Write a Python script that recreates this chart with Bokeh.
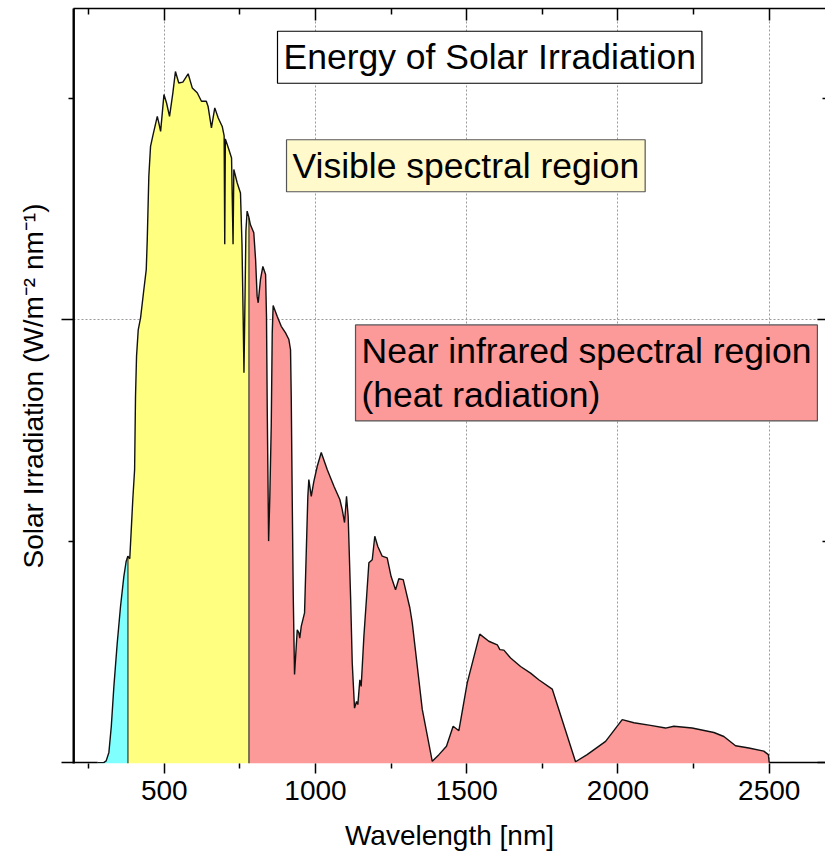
import numpy as np
from bokeh.plotting import figure
from bokeh.models import Range1d, FixedTicker, LinearAxis, Label, Span
from bokeh.embed import file_html
from bokeh.resources import INLINE

# ---- data ----
wavelength = [280, 300, 308, 317, 325, 333.5, 344.6, 355.5, 366.4, 374, 379.6, 386, 392, 396,
              402, 405, 408.4, 414, 421.7, 432.6, 440.5, 443.8, 449, 454.7, 462, 477, 482, 488,
              499, 507.6, 517.5, 528.5, 537, 548, 561.5, 579, 592.6, 609, 623, 639, 645, 656,
              667, 678.5, 691.7, 698, 700, 702, 713.6, 722.5, 727.5, 730, 741, 752, 757, 761,
              763.5, 766, 770, 774, 779, 785, 796, 802, 807, 810.6, 818, 826, 835, 838, 840.5,
              845, 849, 853.7, 857, 860, 873.6, 886.8, 901, 912, 917.5, 919.8, 923, 926.5,
              930.7, 939.7, 945, 948, 953, 963.8, 970, 974.7, 978, 986, 994.6, 1005.8, 1019,
              1039, 1061, 1080.5, 1088.4, 1096, 1102.6, 1108, 1116, 1121.5, 1129, 1135.7, 1140,
              1146.6, 1151, 1160, 1169, 1176.5, 1187.6, 1196, 1206, 1220.6, 1237, 1250, 1264.6,
              1275.5, 1290, 1312, 1320, 1353, 1386, 1408, 1433, 1455, 1474, 1501.6, 1543, 1573,
              1601, 1609.5, 1622.8, 1645, 1678, 1711, 1738, 1782.6, 1859.7, 1898, 1959, 2014,
              2052.6, 2107.6, 2157, 2184.6, 2245, 2317, 2350, 2388.6, 2432.6, 2482, 2497, 2500]
irradiance = [0.0, 0.0, 0.004, 0.023, 0.082, 0.172, 0.27, 0.353, 0.42, 0.454, 0.466, 0.46, 0.54, 0.594,
              0.661, 0.827, 0.917, 0.977, 1.004, 1.068, 1.113, 1.18, 1.323, 1.391, 1.414, 1.459, 1.444, 1.425,
              1.508, 1.489, 1.459, 1.512, 1.56, 1.534, 1.536, 1.555, 1.523, 1.512, 1.493, 1.493, 1.481, 1.433,
              1.478, 1.455, 1.436, 1.415, 1.17, 1.408, 1.384, 1.365, 1.17, 1.339, 1.309, 1.286, 1.17, 1.0,
              0.88, 1.0, 1.2, 1.245, 1.233, 1.214, 1.196, 1.135, 1.053, 1.038, 1.09, 1.12, 1.102, 1.007, 0.797,
              0.5, 0.6, 0.76, 0.97, 1.032, 1.007, 0.985, 0.97, 0.955, 0.932, 0.827, 0.601, 0.375,
              0.199, 0.3, 0.293, 0.281, 0.308, 0.338, 0.488, 0.601, 0.639, 0.601, 0.635, 0.669, 0.7,
              0.661, 0.624, 0.594, 0.571, 0.542, 0.601, 0.556, 0.375, 0.225, 0.123, 0.138, 0.131,
              0.187, 0.172, 0.285, 0.375, 0.451, 0.458, 0.511, 0.488, 0.466, 0.462, 0.42, 0.39,
              0.415, 0.413, 0.349, 0.315, 0.12, 0.003, 0.018, 0.037, 0.082, 0.072, 0.18, 0.29, 0.274,
              0.266, 0.255, 0.254, 0.236, 0.217, 0.202, 0.187, 0.166, 0.002, 0.018, 0.048, 0.097,
              0.09, 0.084, 0.078, 0.082, 0.078, 0.068, 0.059, 0.038, 0.033, 0.026, 0.018, 0.0]
region_edges = [380, 780]                       # UV | visible | near infrared
region_colors = ["#80FFFF", "#FFFF80", "#FC9999"]
x_major_ticks = [500, 1000, 1500, 2000, 2500]
x_minor_ticks = [250, 750, 1250, 1750, 2250]
y_major_ticks = [0, 1]
y_minor_ticks = [0.5, 1.5]

FONT = "Liberation Sans"
X_START, X_END = 200, 2686
Y_START, Y_END = -0.002, 1.7023

wl = np.array(wavelength, dtype=float)
ir = np.array(irradiance, dtype=float)

p = figure(width=825, height=866, output_backend="svg", toolbar_location=None, tools="",
           x_range=Range1d(X_START, X_END), y_range=Range1d(Y_START, Y_END),
           min_border_left=73, min_border_right=0, min_border_top=8, min_border_bottom=103)
p.outline_line_color = None
p.background_fill_color = "white"
p.border_fill_color = "white"

# bottom axis
xa = p.xaxis[0]
xa.ticker = FixedTicker(ticks=x_major_ticks, minor_ticks=x_minor_ticks)
xa.axis_line_color = None
xa.major_tick_out, xa.major_tick_in = 10, 0
xa.minor_tick_out, xa.minor_tick_in = 5, 0
xa.major_tick_line_color = "black"
xa.minor_tick_line_color = "black"
xa.major_tick_line_width = 1.5
xa.minor_tick_line_width = 1.5
xa.major_label_text_font = FONT
xa.major_label_text_font_size = "28px"
xa.major_label_text_color = "black"
xa.major_label_standoff = 7
xa.axis_label = "Wavelength [nm]"
xa.axis_label_text_font = FONT
xa.axis_label_text_font_size = "28px"
xa.axis_label_text_font_style = "normal"
xa.axis_label_text_color = "black"
xa.axis_label_standoff = 17

# left axis (no tick labels)
ya = p.yaxis[0]
ya.ticker = FixedTicker(ticks=y_major_ticks, minor_ticks=y_minor_ticks)
ya.axis_line_color = "black"
ya.axis_line_width = 2
ya.major_tick_out, ya.major_tick_in = 12, 0
ya.minor_tick_out, ya.minor_tick_in = 5, 0
ya.major_tick_line_color = "black"
ya.minor_tick_line_color = "black"
ya.major_tick_line_width = 1.5
ya.minor_tick_line_width = 1.5
ya.major_label_text_font_size = "1px"
ya.major_label_text_color = None
ya.major_label_standoff = 0
ya.axis_label = "Solar Irradiation (W/m\u207b\u00b2 nm\u207b\u00b9)"
ya.axis_label_text_font = FONT
ya.axis_label_text_font_size = "28px"
ya.axis_label_text_font_style = "normal"
ya.axis_label_text_color = "black"
ya.axis_label_standoff = 13

# top axis (ticks inside)
top = LinearAxis(ticker=FixedTicker(ticks=x_major_ticks, minor_ticks=x_minor_ticks),
                 major_tick_in=12, major_tick_out=0, minor_tick_in=6, minor_tick_out=0,
                 major_tick_line_width=1.5, minor_tick_line_width=1.5,
                 axis_line_color="black", axis_line_width=1.5,
                 major_label_text_font_size="1px", major_label_text_color=None,
                 major_label_standoff=0)
p.add_layout(top, "above")

# right axis (ticks inside, line off-canvas)
right = LinearAxis(ticker=FixedTicker(ticks=y_major_ticks, minor_ticks=y_minor_ticks),
                   major_tick_in=8, major_tick_out=0, minor_tick_in=3, minor_tick_out=0,
                   major_tick_line_width=1.5, minor_tick_line_width=1.5,
                   axis_line_color=None,
                   major_label_text_font_size="1px", major_label_text_color=None,
                   major_label_standoff=0)
p.add_layout(right, "right")

# left frame edge, drawn just inside the frame
p.add_layout(Span(location=X_START + 2, dimension="height", line_color="black",
                  line_width=1.5, level="overlay"))

# grids
p.xgrid[0].ticker = FixedTicker(ticks=x_major_ticks)
p.ygrid[0].ticker = FixedTicker(ticks=y_major_ticks)
for g in (p.xgrid[0], p.ygrid[0]):
    g.grid_line_color = "#9a9a9a"
    g.grid_line_dash = "2 2"
    g.grid_line_width = 1

# filled regions
edges = [wl[0]] + region_edges + [wl[-1]]
for i, color in enumerate(region_colors):
    lo, hi = edges[i], edges[i + 1]
    m = (wl > lo) & (wl < hi)
    xs = np.concatenate([[lo], wl[m], [hi]])
    ys = np.concatenate([[np.interp(lo, wl, ir)], ir[m], [np.interp(hi, wl, ir)]])
    p.varea(x=xs, y1=Y_START, y2=ys, fill_color=color, fill_alpha=1.0)

# region boundaries
edge_vals = np.interp(region_edges, wl, ir)
p.segment(x0=region_edges, y0=[Y_START] * len(region_edges), x1=region_edges, y1=edge_vals,
          line_color="#333333", line_width=1.2)

# zero baseline outside the data and the spectrum curve
p.segment(x0=[X_START, wl[-1]], y0=[0, 0], x1=[wl[0], X_END], y1=[0, 0],
          line_color="black", line_width=1.6)
p.line(wl, ir, line_color="#111111", line_width=1.4)

# text boxes
p.add_layout(Label(x=874.4, y=1.651, text="Energy of Solar Irradiation",
                   text_font=FONT, text_font_size="35.5px", text_color="black",
                   text_align="left", text_baseline="top",
                   background_fill_color="white", border_line_color="black",
                   border_line_width=1.2, padding=6))
p.add_layout(Label(x=904.2, y=1.406, text="Visible spectral region",
                   text_font=FONT, text_font_size="35.5px", text_color="black",
                   text_align="left", text_baseline="top",
                   background_fill_color="#FFF9CC", border_line_color="#555555",
                   border_line_width=1.2, padding=6))
p.add_layout(Label(x=1132.3, y=0.988, text="Near infrared spectral region\n(heat radiation)",
                   text_font=FONT, text_font_size="35.5px", text_color="black",
                   text_align="left", text_baseline="top", text_line_height=1.1,
                   background_fill_color="#FC9999", border_line_color="#555555",
                   border_line_width=1.2, padding=6))

open("out.html", "w").write(file_html(p, INLINE))
